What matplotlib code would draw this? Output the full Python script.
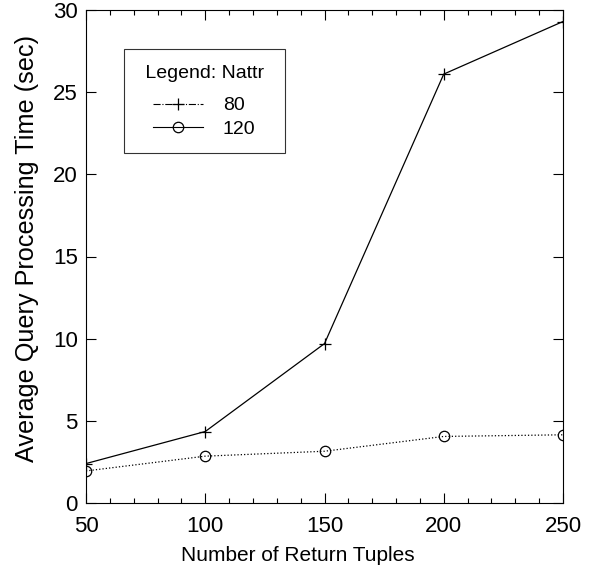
"""
Query processing time vs number of return tuples
"""
import matplotlib
matplotlib.use("Agg")
import matplotlib.pyplot as plt
from matplotlib.lines import Line2D
from matplotlib.ticker import MultipleLocator

# DATA
tuples = [50, 100, 150, 200, 250]
time_80 = [2.4, 4.35, 9.7, 26.1, 29.3]
time_120 = [1.95, 2.85, 3.15, 4.05, 4.15]
legend_labels = ["80", "120"]

plt.rcParams['font.family'] = ['Liberation Sans', 'DejaVu Sans']

fig = plt.figure(figsize=(6.02, 5.78), dpi=100)
ax = fig.add_axes([86 / 602, 75 / 578, 477 / 602, 493 / 578])

ax.plot(tuples, time_80, color='black', linestyle='-', linewidth=0.9,
        marker='+', markersize=8, markeredgewidth=0.9)
ax.plot(tuples, time_120, color='black', linestyle=':', linewidth=0.9,
        marker='o', markersize=7.5, markerfacecolor='none', markeredgewidth=0.9)

ax.set_xlim(50, 250)
ax.set_ylim(0, 30)
ax.xaxis.set_major_locator(MultipleLocator(50))
ax.xaxis.set_minor_locator(MultipleLocator(10))
ax.yaxis.set_major_locator(MultipleLocator(5))
ax.tick_params(which='both', direction='in', top=True, right=True, labelsize=16)
ax.tick_params(which='major', length=7, width=0.8)
ax.tick_params(which='minor', length=3.6, width=0.8)
ax.tick_params(axis='x', which='major', pad=9)
ax.tick_params(axis='y', which='major', pad=6)
ax.set_xlabel("Number of Return Tuples", fontsize=15)
ax.set_ylabel("Average Query Processing Time (sec)", fontsize=18.2)
# label positions in the original are a bit off centre
ax.xaxis.set_label_coords(0.445, -0.088)
ax.yaxis.set_label_coords(-0.099, 0.517)

handles = [
    Line2D([], [], color='black', linestyle='-.', linewidth=0.8,
           marker='+', markersize=9, markeredgewidth=0.9),
    Line2D([], [], color='black', linestyle='-', linewidth=0.8,
           marker='o', markersize=7.5, markerfacecolor='none', markeredgewidth=0.9),
]
leg = ax.legend(handles, legend_labels, title=" Legend: Nattr ", fontsize=14,
                title_fontsize=14, loc='upper left',
                bbox_to_anchor=(38 / 477, 1 - 39 / 493),
                frameon=True, fancybox=False, edgecolor='black',
                handlelength=2.57, handletextpad=1.03, borderpad=0.8,
                labelspacing=0.29, borderaxespad=0)
leg.get_frame().set_linewidth(0.8)
leg._legend_box.sep = 11  # bigger gap under the title, as in the original

for s in ax.spines.values():
    s.set_linewidth(0.8)

plt.savefig("out.png")
